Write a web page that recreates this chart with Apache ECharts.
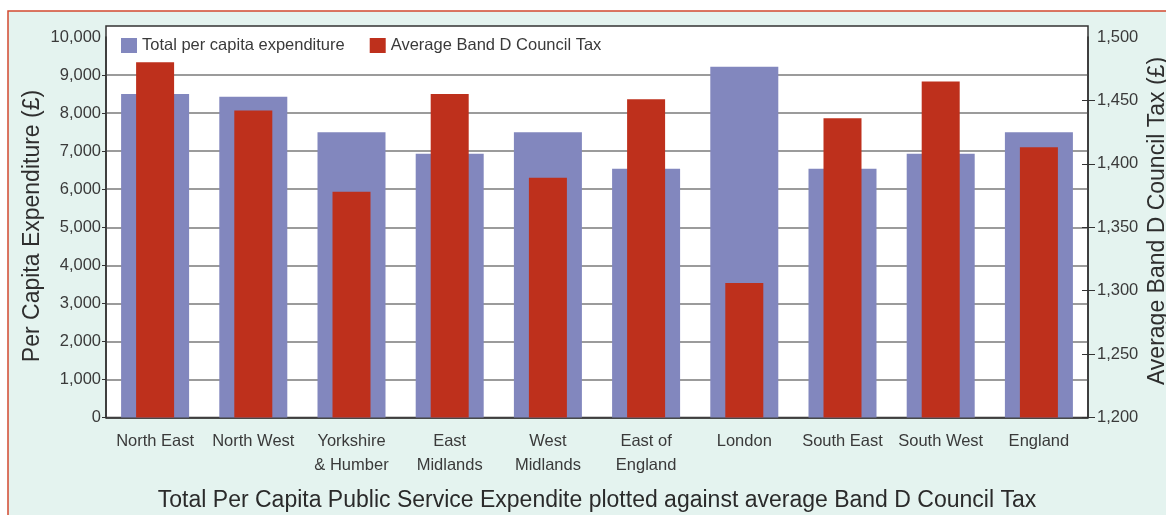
<!DOCTYPE html>
<html>
<head>
<meta charset="utf-8">
<script src="https://cdn.jsdelivr.net/npm/echarts@6/dist/echarts.min.js"></script>
<style>
  html, body { margin: 0; padding: 0; background: #ffffff; }
  #chart { width: 1166px; height: 515px; }
</style>
</head>
<body>
<div id="chart"></div>
<script>
// Regions of England
const categories = [
  'North East', 'North West', 'Yorkshire\n& Humber', 'East\nMidlands', 'West\nMidlands',
  'East of\nEngland', 'London', 'South East', 'South West', 'England'
];
// Total per capita public service expenditure (£), left axis
const expenditure = [8500, 8430, 7500, 6930, 7500, 6540, 9220, 6540, 6930, 7500];
// Average Band D council tax (£), right axis
const councilTax = [1480, 1442, 1378, 1455, 1389, 1451, 1306, 1436, 1465, 1413];

// Axis scales: [min, max, interval]
const expenditureScale = [0, 10000, 1000];
const councilTaxScale = [1200, 1500, 50];

const seriesNames = ['Total per capita expenditure', 'Average Band D Council Tax'];
const leftAxisTitle = 'Per Capita Expenditure (£)';
const rightAxisTitle = 'Average Band D Council Tax (£)';
const chartTitle = 'Total Per Capita Public Service Expendite plotted against average Band D Council Tax';

const FONT = '"Liberation Sans", Arial, sans-serif';
const TEXT = '#3a3a3a';
const fmt = v => v.toLocaleString('en-US');

// tick values below the top of each scale (no tick mark at the top value)
function ticksBelowMax(scale) {
  const out = [];
  for (let v = scale[0]; v < scale[1]; v += scale[2]) out.push(v);
  return out;
}
const leftTickMarks = ticksBelowMax(expenditureScale);
const rightTickMarks = ticksBelowMax(councilTaxScale);

// one colour per horizontal gridline; the line at the top value is left out
const gridCount = Math.round((expenditureScale[1] - expenditureScale[0]) / expenditureScale[2]) + 1;
const gridColors = [];
for (let i = 0; i < gridCount; i++) gridColors.push(i === gridCount - 1 ? 'rgba(0,0,0,0)' : '#7a7a7a');

const chart = echarts.init(document.getElementById('chart'));
chart.setOption({
  backgroundColor: '#ffffff',
  animation: false,
  textStyle: { fontFamily: FONT },
  grid: { left: 106, right: 78, top: 37, bottom: 97.5, containLabel: false },
  legend: {
    left: 121, top: 37, padding: 0,
    icon: 'rect', itemWidth: 16, itemHeight: 15, itemGap: 25,
    textStyle: { fontFamily: FONT, fontSize: 16.5, color: TEXT },
    data: seriesNames
  },
  xAxis: [
    {
      type: 'category', data: categories,
      axisLine: { lineStyle: { color: '#333', width: 1.5 } },
      axisTick: { show: false },
      axisLabel: { fontFamily: FONT, fontSize: 16.5, color: TEXT, lineHeight: 24, margin: 12, interval: 0 }
    },
    { type: 'category', data: categories, show: false }
  ],
  yAxis: [
    {
      type: 'value', position: 'left',
      min: expenditureScale[0], max: expenditureScale[1], interval: expenditureScale[2],
      axisLine: { show: true, lineStyle: { color: '#333', width: 1.5 } },
      axisTick: { show: true, length: 4, customValues: leftTickMarks, lineStyle: { color: '#333' } },
      axisLabel: { fontFamily: FONT, fontSize: 16.5, color: TEXT, margin: 5, formatter: fmt },
      splitLine: { show: true, lineStyle: { color: gridColors, width: 1.5 } }
    },
    {
      type: 'value', position: 'right',
      min: councilTaxScale[0], max: councilTaxScale[1], interval: councilTaxScale[2],
      axisLine: { show: true, lineStyle: { color: '#333', width: 1.5 } },
      axisTick: { show: true, length: 7, customValues: rightTickMarks, lineStyle: { color: '#333' } },
      axisLabel: { fontFamily: FONT, fontSize: 16.5, color: TEXT, margin: 9, formatter: fmt },
      splitLine: { show: false }
    },
    {
      // inner half of the right-hand tick marks
      type: 'value', position: 'right',
      min: councilTaxScale[0], max: councilTaxScale[1], interval: councilTaxScale[2],
      axisLine: { show: false },
      axisTick: { show: true, inside: true, length: 6, customValues: rightTickMarks, lineStyle: { color: '#333' } },
      axisLabel: { show: false },
      splitLine: { show: false }
    }
  ],
  series: [
    {
      name: seriesNames[0], type: 'bar', data: expenditure,
      xAxisIndex: 0, yAxisIndex: 0, barWidth: 68,
      itemStyle: { color: '#8287be' }
    },
    {
      name: seriesNames[1], type: 'bar', data: councilTax,
      xAxisIndex: 1, yAxisIndex: 1, barWidth: 38,
      itemStyle: { color: '#be301c' }
    }
  ],
  graphic: [
    {
      type: 'rect', z: -20, silent: true,
      shape: { x: 8, y: 11, width: 1200, height: 600 },
      style: { fill: '#e4f3ef', stroke: '#d24a30', lineWidth: 1.5 }
    },
    {
      type: 'rect', z: -10, silent: true,
      shape: { x: 106, y: 26, width: 982, height: 391.5 },
      style: { fill: '#ffffff', stroke: '#333', lineWidth: 1.5 }
    },
    {
      type: 'text', x: 33, y: 226, rotation: Math.PI / 2, silent: true,
      style: { text: leftAxisTitle, font: '23px ' + FONT, fill: '#2e2e2e', textAlign: 'center', textVerticalAlign: 'middle' }
    },
    {
      type: 'text', x: 1158, y: 221, rotation: Math.PI / 2, silent: true,
      style: { text: rightAxisTitle, font: '23px ' + FONT, fill: '#2e2e2e', textAlign: 'center', textVerticalAlign: 'middle' }
    },
    {
      type: 'text', x: 597, y: 501, silent: true,
      style: { text: chartTitle, font: '23px ' + FONT, fill: '#2a2a2a', textAlign: 'center', textVerticalAlign: 'middle' }
    }
  ]
});
</script>
</body>
</html>
